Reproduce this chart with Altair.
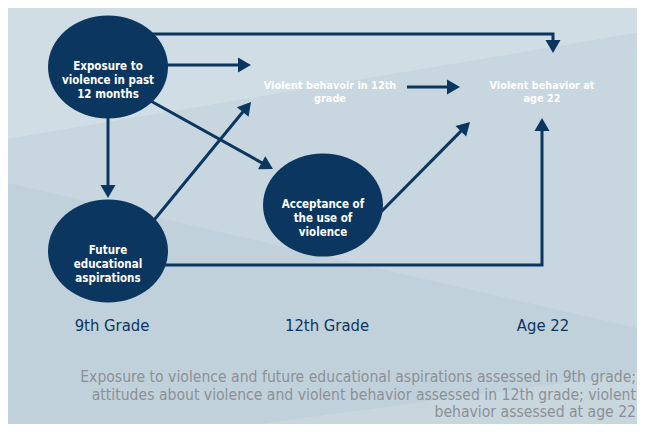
import math
import altair as alt
import pandas as pd

# ---------------- data ----------------
node_names = ["Exposure", "Future", "Acceptance"]
node_x = [108, 108, 323]
node_y = [67, 251, 205]
node_labels = [
    "Exposure to\nviolence in past\n12 months",
    "Future\neducational\naspirations",
    "Acceptance of\nthe use of\nviolence",
]

outcome_labels = ["Violent behavoir in 12th\ngrade", "Violent behavior at\nage 22"]
outcome_x = [330, 542]
outcome_y = [86, 86]

time_labels = ["9th Grade", "12th Grade", "Age 22"]
time_x = [112, 327, 543]
time_y = [326, 326, 326]

caption_lines = [
    "Exposure to violence and future educational aspirations assessed in 9th grade;",
    "attitudes about violence and violent behavior assessed in 12th grade; violent",
    "behavior assessed at age 22",
]
caption_x = [636, 636, 636]
caption_y = [377, 395, 412]

# arrows as polylines; last point is the arrow tip
arrow_ids = [1, 2, 3, 4, 5, 6, 7, 8]
arrow_xs = [
    [150, 553, 553],
    [160, 251],
    [407, 460],
    [108, 108],
    [140, 273],
    [150, 251],
    [375, 470],
    [160, 542, 542],
]
arrow_ys = [
    [34, 34, 53],
    [65, 65],
    [87, 87],
    [110, 198],
    [95, 169],
    [225, 102],
    [218, 122],
    [265, 265, 118],
]

band_names = ["top", "top", "mid", "mid", "bottom", "bottom"]
band_x = [8, 637, 8, 637, 259, 637]
band_y = [8, 8, 139, 33, 424, 373]
band_y2 = [139, 33, 183, 328, 424, 424]
band_colors = {"top": "#d1dde4", "mid": "#c8d6df", "bottom": "#c8d6de"}

NAVY = "#0b3660"
HEAD_R = 7.5
HEAD_H = math.sqrt(3) / 2 * HEAD_R

# ---------------- tables ----------------
line_rows, head_rows = [], []
for aid, xs_, ys_ in zip(arrow_ids, arrow_xs, arrow_ys):
    x0, y0, x1, y1 = xs_[-2], ys_[-2], xs_[-1], ys_[-1]
    L = math.hypot(x1 - x0, y1 - y0)
    ux, uy = (x1 - x0) / L, (y1 - y0) / L
    cx, cy = x1 - HEAD_H * ux, y1 - HEAD_H * uy
    pts = list(zip(xs_[:-1], ys_[:-1])) + [(cx, cy)]
    for i, (px, py) in enumerate(pts):
        line_rows.append({"id": aid, "o": i, "x": px, "y": py})
    ang = math.degrees(math.atan2(ux, -uy)) % 360
    head_rows.append({"id": aid, "x": cx, "y": cy, "angle": ang})

lines_df = pd.DataFrame(line_rows)
heads_df = pd.DataFrame(head_rows)
nodes_df = pd.DataFrame({"name": node_names, "x": node_x, "y": node_y, "label": node_labels})
out_df = pd.DataFrame({"x": outcome_x, "y": outcome_y, "label": outcome_labels})
time_df = pd.DataFrame({"x": time_x, "y": time_y, "label": time_labels})
cap_df = pd.DataFrame({"x": caption_x, "y": caption_y, "label": caption_lines})
band_df = pd.DataFrame({"band": band_names, "x": band_x, "y": band_y, "y2": band_y2})

W, H = 629, 416
xs = alt.Scale(domain=[8, 637], nice=False, zero=False)
ys = alt.Scale(domain=[8, 424], nice=False, zero=False, reverse=True)
X = lambda f="x": alt.X(f, type="quantitative", scale=xs, axis=None)
Y = lambda f="y": alt.Y(f, type="quantitative", scale=ys, axis=None)

bands = alt.Chart(band_df).mark_area(opacity=1).encode(
    x=X(), y=Y(), y2=alt.Y2("y2"),
    detail="band:N",
    color=alt.Color("band:N", scale=alt.Scale(domain=list(band_colors.keys()),
                                              range=list(band_colors.values())), legend=None),
)

arrows = alt.Chart(lines_df).mark_line(color=NAVY, strokeWidth=3, strokeJoin="miter", strokeCap="butt").encode(
    x=X(), y=Y(), detail="id:N", order="o:Q"
)

heads = alt.Chart(heads_df).mark_point(shape="triangle-up", filled=True, color=NAVY, opacity=1,
                                        size=(2 * HEAD_R) ** 2, strokeWidth=0).encode(
    x=X(), y=Y(), angle=alt.Angle("angle:Q", scale=None)
)

ellipse = "M-1,0A1,0.86,0,1,0,1,0A1,0.86,0,1,0,-1,0Z"
nodes = alt.Chart(nodes_df).mark_point(shape=ellipse, filled=True, color=NAVY, opacity=1,
                                        size=120 ** 2, strokeWidth=0).encode(x=X(), y=Y())

FONT_C = "DejaVu Sans Condensed, Liberation Sans Narrow, sans-serif"

node_text = alt.Chart(nodes_df).mark_text(color="white", font=FONT_C, fontWeight="bold", fontSize=11.5,
                                          lineBreak="\n", lineHeight=14, align="center", baseline="middle").encode(
    x=X(), y=Y(), text="label:N")

out_text = alt.Chart(out_df).mark_text(color="white", font=FONT_C, fontWeight="bold", fontSize=10.8,
                                       lineBreak="\n", lineHeight=13, align="center", baseline="middle").encode(
    x=X(), y=Y(), text="label:N")

time_text = alt.Chart(time_df).mark_text(color=NAVY, font=FONT_C, fontSize=16.5, align="center",
                                         baseline="middle").encode(
    x=X(), y=Y(), text="label:N")

cap_text = alt.Chart(cap_df).mark_text(color="#8c9095", font=FONT_C, fontSize=15.6, align="right",
                                       baseline="middle").encode(
    x=X(), y=Y(), text="label:N")

chart = alt.layer(bands, arrows, heads, nodes, node_text, out_text, time_text, cap_text).properties(
    width=W, height=H, padding=0, autosize=alt.AutoSizeParams(type="none"),
    background="#c1d1db",
).configure_view(stroke=None, fill="#c1d1db")

chart.save("out.html", embed_options={"renderer": "svg", "actions": False})
